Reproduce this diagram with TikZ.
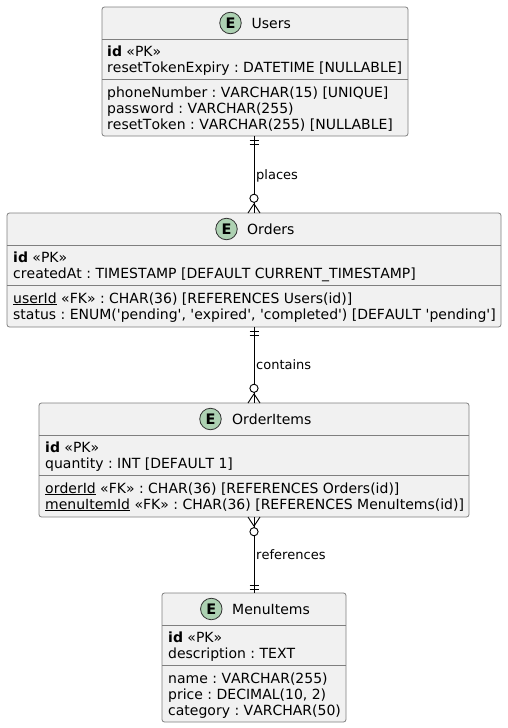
\documentclass[tikz,border=0pt]{standalone}
\usepackage{fontspec}
\setmainfont{DejaVu Sans}[Kerning=Off]
\newfontfamily\plainfont{DejaVu Sans}[Kerning=Off]
\begin{document}
\frenchspacing
\begin{tikzpicture}[x=1pt,y=-1pt,
  entity/.style={draw=boxgrey,fill=boxfill,line width=0.8pt,rounded corners=2.5pt,inner sep=0pt,outer sep=0pt},
  rule/.style={draw=boxgrey,line width=0.8pt},
  row/.style={anchor=base west,inner sep=0pt,font=\fontsize{14}{16}\selectfont\frenchspacing,text=black},
  title/.style={anchor=base west,inner sep=0pt,font=\fontsize{14}{16}\selectfont,text=black},
  lbl/.style={anchor=base west,inner sep=0pt,font=\fontsize{13}{15}\selectfont,text=black},
  badge/.style={circle,draw=black!80,fill=badgegreen,line width=0.8pt,minimum size=21.5pt,inner sep=0pt,font=\fontsize{14.5}{16}\selectfont\bfseries},
  link/.style={draw=black,line width=0.9pt}]
\definecolor{boxgrey}{HTML}{7F7F7F}
\definecolor{boxfill}{HTML}{F1F1F1}
\definecolor{badgegreen}{HTML}{ADD1B2}
\useasboundingbox (0,0) rectangle (507,728);
\newcommand{\ent}[5]{\node[entity,minimum width=#3pt,minimum height=#4pt] (#5) at (#1,#2) {};}
\ent{255}{71.5}{306}{129}{users}
\ent{254}{270}{494}{114}{orders}
\ent{254}{460}{430}{114}{items}
\ent{254}{657.5}{184}{129}{menu}
% Users
\draw[rule] (102,39.5) -- (408,39.5);
\draw[rule] (102,79.5) -- (408,79.5);
\node[badge] (eu) at (230.5,23) {E};
\node[title] (tu) at (251.5,28) {Users};
\node[row] (u1) at (107,56) {\textbf{id} «PK»};
\node[row] (u2) at (107,72) {resetTokenExpiry : DATETIME [NULLABLE]};
\node[row] (u3) at (107,97) {phoneNumber : VARCHAR(15) [UNIQUE]};
\node[row] (u4) at (107,113) {password : VARCHAR(255)};
\node[row] (u5) at (107,129) {resetToken : VARCHAR(255) [NULLABLE]};
% Orders
\draw[rule] (7,245.5) -- (501,245.5);
\draw[rule] (7,285.5) -- (501,285.5);
\node[badge] (eo) at (226.5,229) {E};
\node[title] (to) at (247,234) {Orders};
\node[row] (o1) at (13,262) {\textbf{id} «PK»};
\node[row] (o2) at (13,278) {createdAt : TIMESTAMP [DEFAULT CURRENT\_TIMESTAMP]};
\node[row] (o3) at (13,303) {\underline{userId} «FK» : CHAR(36) [REFERENCES Users(id)]};
\node[row] (o4) at (13,319) {\plainfont status : ENUM('pending', 'expired', 'completed') [DEFAULT 'pending']};
% OrderItems
\draw[rule] (39,435.5) -- (469,435.5);
\draw[rule] (39,475.5) -- (469,475.5);
\node[badge] (ei) at (210.5,419) {E};
\node[title] (ti) at (232,424) {OrderItems};
\node[row] (i1) at (45,452) {\textbf{id} «PK»};
\node[row] (i2) at (45,468) {quantity : INT [DEFAULT 1]};
\node[row] (i3) at (45,493) {\underline{orderId} «FK» : CHAR(36) [REFERENCES Orders(id)]};
\node[row] (i4) at (45,509) {\underline{menuItemId} «FK» : CHAR(36) [REFERENCES MenuItems(id)]};
% MenuItems
\draw[rule] (162,625.5) -- (346,625.5);
\draw[rule] (162,665.5) -- (346,665.5);
\node[badge] (em) at (211.3,609) {E};
\node[title] (tm) at (232,614) {MenuItems};
\node[row] (m1) at (168,642) {\textbf{id} «PK»};
\node[row] (m2) at (168,658) {description : TEXT};
\node[row] (m3) at (168,683) {name : VARCHAR(255)};
\node[row] (m4) at (168,699) {price : DECIMAL(10, 2)};
\node[row] (m5) at (168,715) {category : VARCHAR(50)};
% Connectors
\newcommand{\manyend}[2]{%
  \draw[link,fill=white] ([yshift=#2*14.7pt]#1) circle[radius=4.1pt];
  \draw[link] ([yshift=#2*9.2pt]#1) -- ([xshift=-6pt]#1);
  \draw[link] ([yshift=#2*9.2pt]#1) -- ([xshift=6pt]#1);
  \draw[link] ([yshift=#2*10.6pt]#1) -- (#1);}
\newcommand{\oneend}[2]{%
  \draw[link] ([xshift=-4.5pt,yshift=#2*4pt]#1) -- ([xshift=4.5pt,yshift=#2*4pt]#1);
  \draw[link] ([xshift=-4.5pt,yshift=#2*8pt]#1) -- ([xshift=4.5pt,yshift=#2*8pt]#1);}
\coordinate (us) at (users.south -| orders.north);
\draw[link] (us) -- (orders.north);
\oneend{us}{-1}
\manyend{orders.north}{1}
\draw[link] (orders.south) -- (items.north);
\oneend{orders.south}{-1}
\manyend{items.north}{1}
\draw[link] (items.south) -- (menu.north);
\manyend{items.south}{-1}
\oneend{menu.north}{1}
\node[lbl] (l1) at (256,179) {places};
\node[lbl] (l2) at (256,369) {contains};
\node[lbl] (l3) at (256,559) {references};
\end{tikzpicture}
\end{document}
